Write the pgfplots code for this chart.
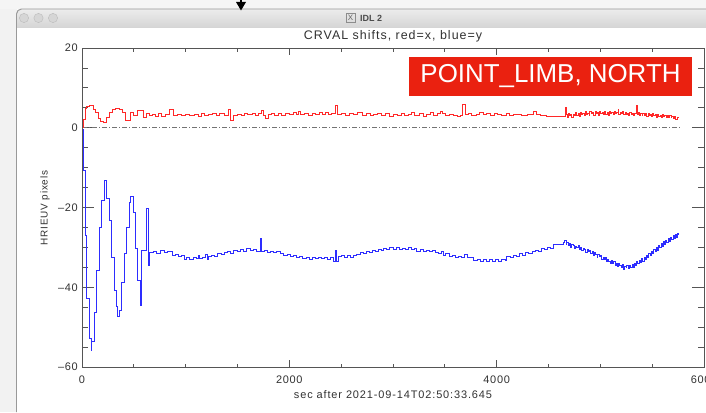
\documentclass[border=0pt]{standalone}
\usepackage{fontspec}
\setmainfont{Liberation Sans}
\newfontfamily\idlfont[LetterSpace=8]{Liberation Sans}
\newfontfamily\tickfont[LetterSpace=6]{Liberation Sans}
\usepackage{pgfplots}
\usepackage{pgfplotstable}
\pgfplotsset{compat=1.18}
\definecolor{idlred}{RGB}{255,40,40}
\definecolor{idlblue}{RGB}{45,45,255}
\definecolor{axisgray}{RGB}{85,85,85}
\definecolor{txtgray}{RGB}{50,50,50}
\definecolor{labelred}{RGB}{234,33,16}
\definecolor{tbtop}{RGB}{236,236,236}
\definecolor{tbbot}{RGB}{212,212,212}

\pgfplotstableread{
t v
0 -0.5
13 -10.75
29 -27
45 -42.8
68 -52.8
87 -55.75
93 -53.7
119 -46.2
141 -35.75
164 -25.1
190 -18.1
212 -13.1
238 -17.8
260 -23.25
286 -32.4
309 -40.75
328 -44.9
344 -47.25
357 -45.75
383 -38.7
405 -31.6
431 -24.9
453 -18.7
470 -17.3
495 -21.2
518 -30.3
537 -38.25
559 -44.5
576 -30.75
617 -20.1
640 -34.5
650 -31.3
690 -31.0
720 -31.4
760 -30.8
790 -31.2
820 -30.9
850 -31.0
868 -32.0
900 -31.8
930 -32.3
960 -32.0
983 -33.0
1010 -32.6
1040 -32.9
1070 -32.5
1100 -32.8
1120 -31.9
1135 -32.8
1160 -32.4
1190 -31.8
1205 -33.0
1220 -32.2
1250 -32.0
1280 -32.3
1310 -31.6
1340 -31.8
1370 -31.2
1400 -31.0
1430 -31.4
1460 -30.8
1500 -31.0
1530 -30.6
1560 -30.9
1590 -30.3
1620 -30.8
1650 -30.5
1680 -30.9
1717 -27.8
1735 -31.0
1760 -30.8
1790 -31.2
1820 -30.9
1850 -31.3
1880 -31.0
1910 -31.5
1945 -32.0
1980 -31.7
2010 -32.2
2040 -31.9
2070 -32.4
2100 -32.3
2130 -32.8
2160 -32.5
2190 -32.9
2220 -32.6
2250 -32.8
2280 -32.4
2310 -32.8
2340 -32.5
2370 -32.9
2400 -32.6
2424 -33.6
2440 -30.8
2455 -33.4
2473 -32.3
2500 -32.0
2530 -32.4
2560 -32.1
2590 -32.5
2620 -32.0
2650 -31.7
2682 -31.2
2710 -31.5
2740 -31.0
2770 -31.3
2800 -30.7
2830 -31.0
2860 -30.5
2890 -30.8
2907 -30.3
2940 -30.6
2970 -30.1
3000 -30.4
3030 -30.0
3060 -30.5
3090 -30.2
3120 -30.6
3150 -30.1
3180 -30.5
3210 -30.2
3229 -30.9
3260 -30.6
3290 -31.0
3320 -30.7
3350 -31.1
3380 -30.8
3410 -31.2
3440 -31.5
3470 -31.1
3486 -32.0
3510 -31.6
3540 -32.3
3570 -32.0
3600 -32.6
3630 -32.2
3660 -32.5
3690 -31.8
3715 -32.6
3740 -32.4
3775 -33.3
3810 -33.0
3840 -33.4
3870 -33.1
3900 -33.5
3930 -33.1
3960 -33.4
3990 -33.0
4020 -33.5
4050 -33.0
4080 -33.3
4097 -32.3
4130 -32.6
4160 -32.0
4190 -32.3
4220 -31.6
4250 -31.9
4280 -31.3
4310 -31.6
4340 -31.0
4370 -30.7
4400 -31.0
4430 -30.3
4460 -30.6
4490 -30.0
4520 -30.3
4547 -29.3
4643 -28.8
4655 -28.3
4668 -29.3
4676 -28.7
4690 -29.5
4702 -29.1
4711 -29.9
4725 -29.2
4740 -29.6
4749 -30.3
4763 -29.7
4772 -30.0
4788 -29.4
4800 -30.4
4812 -30.0
4820 -30.7
4836 -30.2
4849 -30.5
4858 -31.2
4872 -30.4
4884 -31.0
4896 -30.7
4905 -31.6
4919 -31.0
4931 -31.9
4940 -31.3
4955 -31.7
4967 -32.5
4976 -31.8
4990 -32.3
5002 -32.0
5011 -33.1
5025 -32.4
5037 -33.0
5046 -32.6
5060 -33.6
5072 -32.9
5081 -33.4
5095 -33.9
5107 -33.2
5116 -34.1
5130 -33.6
5142 -34.4
5151 -33.9
5165 -34.8
5177 -34.0
5186 -34.6
5200 -35.1
5212 -34.3
5221 -35.4
5235 -34.7
5247 -35.0
5256 -34.4
5270 -35.3
5282 -34.6
5291 -35.0
5305 -34.2
5317 -34.9
5326 -33.9
5340 -34.4
5352 -33.5
5361 -34.1
5375 -33.2
5387 -33.7
5396 -32.8
5410 -33.4
5422 -32.4
5431 -32.9
5445 -32.0
5457 -32.5
5466 -31.5
5480 -32.1
5492 -31.0
5501 -31.6
5515 -30.6
5527 -31.1
5536 -30.0
5550 -30.7
5562 -29.6
5571 -30.1
5585 -29.1
5597 -29.7
5606 -28.6
5620 -29.2
5632 -28.2
5641 -28.8
5655 -27.8
5667 -28.4
5676 -27.5
5690 -28.0
5702 -27.1
5711 -27.7
5725 -26.8
5737 -27.4
5746 -26.4
5755 -27.0
}\bluedata

\pgfplotstableread{
t v
0 0.2
10 0.5
17 2.2
32 4.8
45 5.3
74 5.5
106 4.7
128 3.9
154 2.4
177 1.6
210 1.4
235 2.6
260 3.9
290 4.6
320 4.9
360 4.5
390 3.8
420 1.8
470 3.9
500 3.0
530 4.3
590 2.5
620 3.7
650 3.0
680 3.4
710 2.8
740 3.5
770 2.9
800 3.3
840 4.5
880 3.0
920 3.4
960 3.0
1000 3.4
1040 3.1
1080 3.3
1120 2.9
1150 3.5
1180 3.0
1220 3.4
1260 3.6
1300 3.2
1330 3.5
1370 3.0
1412 4.7
1430 1.8
1460 3.2
1500 3.3
1540 3.2
1570 3.6
1600 3.3
1640 3.7
1670 3.2
1700 3.6
1733 4.3
1750 3.1
1765 2.3
1797 3.3
1830 3.6
1860 3.1
1890 3.5
1920 3.1
1960 3.7
2000 3.3
2040 3.8
2070 3.4
2087 4.0
2110 3.3
2150 3.6
2180 3.1
2220 3.7
2250 3.3
2290 3.8
2320 3.4
2350 3.9
2380 3.3
2410 3.6
2441 5.5
2460 3.3
2500 3.7
2540 3.2
2580 3.6
2620 3.3
2660 3.8
2700 3.2
2740 3.5
2780 3.0
2810 3.4
2850 3.6
2890 3.1
2930 3.5
2970 2.9
3000 3.4
3040 3.1
3080 3.6
3110 3.0
3150 3.4
3180 3.8
3210 3.2
3250 3.5
3290 2.9
3320 3.4
3360 3.9
3390 3.2
3430 3.6
3460 4.1
3480 3.5
3510 3.0
3540 3.4
3580 3.1
3620 2.9
3650 3.2
3672 5.9
3695 3.3
3730 3.6
3760 3.2
3800 3.4
3830 3.8
3870 3.3
3900 3.5
3940 3.2
3980 3.7
4010 3.4
4050 3.1
4090 3.5
4120 3.0
4160 3.4
4200 3.3
4240 3.2
4300 3.3
4354 4.0
4386 3.3
4420 3.2
4482 2.8
4660 5.1
4670 3.3
4679 2.7
4692 3.5
4701 3.0
4715 3.3
4724 2.6
4738 3.4
4750 3.1
4759 3.8
4773 3.0
4785 3.5
4794 2.8
4808 3.9
4820 3.3
4829 3.6
4843 3.1
4855 4.1
4864 3.4
4878 3.7
4890 3.0
4899 4.0
4913 3.5
4925 3.9
4934 3.2
4948 4.2
4960 3.5
4969 3.8
4983 3.1
4995 4.0
5004 3.6
5018 3.9
5030 3.3
5039 4.1
5053 3.4
5065 3.9
5074 3.2
5088 4.0
5100 3.5
5109 3.8
5123 3.3
5135 4.0
5144 3.5
5158 3.9
5170 4.7
5178 3.4
5192 3.9
5204 3.5
5213 4.0
5227 3.3
5239 3.8
5248 3.4
5262 3.7
5274 3.1
5283 3.8
5297 3.3
5309 3.7
5318 3.2
5332 3.6
5345 5.7
5354 3.4
5366 3.8
5375 3.1
5389 3.6
5401 3.0
5410 3.7
5424 3.2
5436 3.5
5445 2.9
5459 3.6
5471 3.1
5480 3.4
5494 2.8
5506 3.5
5515 3.0
5529 3.3
5541 2.7
5550 3.4
5564 2.9
5576 3.2
5585 2.6
5599 3.3
5611 2.8
5620 3.1
5634 2.5
5646 3.0
5655 2.7
5669 3.2
5681 2.5
5690 2.9
5704 2.3
5716 2.8
5725 2.1
5739 2.7
5755 2.7
}\reddata

\begin{document}
\begin{tikzpicture}[x=1bp,y=1bp]
\useasboundingbox (0,0) rectangle (706,412);
% desktop / window chrome
\fill[white] (0,0) rectangle (706,412);
\fill[black!5] (0,0) rectangle (16.5,412);
\fill[black!4] (0,403) rectangle (706,412);
\shade[top color=tbtop,bottom color=tbbot] (16.5,384) -- (16.5,398) arc[start angle=180,end angle=90,radius=5] -- (720,403) -- (720,384) -- cycle;
\draw[black!28,line width=0.8] (16.5,384) -- (720,384);
\draw[black!40,line width=1] (16.5,0) -- (16.5,398) arc[start angle=180,end angle=90,radius=5] -- (720,403);
\fill[white] (17,0) rectangle (706,383.6);
\foreach \cx in {24,38.5,53} {\fill[black!16] (\cx,394) circle (4.6); \draw[black!25,line width=0.5] (\cx,394) circle (4.6);}
\draw[black!45,line width=0.5] (346,389.5) rectangle (355,398.5);
\node[font=\fontsize{8}{9}\selectfont,text=black!60,inner sep=0] at (350.5,394) {X};
\node[anchor=west,font=\bfseries\fontsize{9}{10}\selectfont,text=black!70,inner sep=0] at (360,394) {IDL 2};
\fill[black] (236,410) -- (246,410) -- (241,401.5) -- cycle;
\draw[black,line width=1.3] (241,412) -- (241,409);

% titles
\node[font=\idlfont\fontsize{12.5}{14}\selectfont,text=txtgray] at (393,376) {CRVAL shifts, red=x, blue=y};
\node[font=\idlfont\fontsize{11}{13}\selectfont,text=txtgray] at (393,17) {sec after 2021-09-14T02:50:33.645};
\node[font=\idlfont\fontsize{10}{12}\selectfont,text=txtgray,rotate=90] at (45,204) {HRIEUV pixels};

% axis with y ticks and data
\begin{axis}[
  at={(82bp,45bp)}, anchor=south west, scale only axis,
  width=622bp, height=319bp,
  xmin=0, xmax=6000, ymin=-60, ymax=20,
  xtick=\empty,
  ytick={-60,-40,-20,0,20},
  yticklabels={\textendash60,\textendash40,\textendash20,0,20},
  minor ytick={-55,-50,...,15},
  tick align=inside, major tick length=12bp, minor tick length=6bp,
  axis line style={draw=axisgray,line width=0.8bp},
  every tick/.style={draw=axisgray,line width=0.8bp},
  yticklabel style={anchor=east,inner sep=0pt,xshift=-4bp,font=\tickfont\fontsize{11}{12}\selectfont,text=txtgray},
]
\addplot[draw=black!55,line width=0.7bp,dash pattern=on 5bp off 2bp on 1bp off 2bp] coordinates {(0,0) (5760,0)};
\addplot[const plot,draw=idlred,line width=0.8bp] table[x=t,y=v] {\reddata};
\addplot[const plot,draw=idlblue,line width=0.8bp] table[x=t,y=v] {\bluedata};
\end{axis}
% axis with x ticks
\begin{axis}[
  at={(82bp,45bp)}, anchor=south west, scale only axis,
  width=622bp, height=319bp,
  xmin=0, xmax=6000, ymin=-60, ymax=20,
  ytick=\empty,
  xtick={0,2000,4000,6000},
  xticklabels={0,2000,4000,6000},
  minor xtick={500,1000,...,5500},
  tick align=inside, major tick length=7bp, minor tick length=3.5bp,
  axis line style={draw=axisgray,line width=0.8bp},
  every tick/.style={draw=axisgray,line width=0.8bp},
  xticklabel style={anchor=center,inner sep=0pt,yshift=-13bp,font=\tickfont\fontsize{11}{12}\selectfont,text=txtgray},
]
\end{axis}

% label box
\fill[labelred] (409,316) rectangle (692,355);
\node[text=white,font=\fontsize{26}{28}\selectfont,inner sep=0] at (550.5,336) {POINT\_LIMB, NORTH};
\end{tikzpicture}
\end{document}
